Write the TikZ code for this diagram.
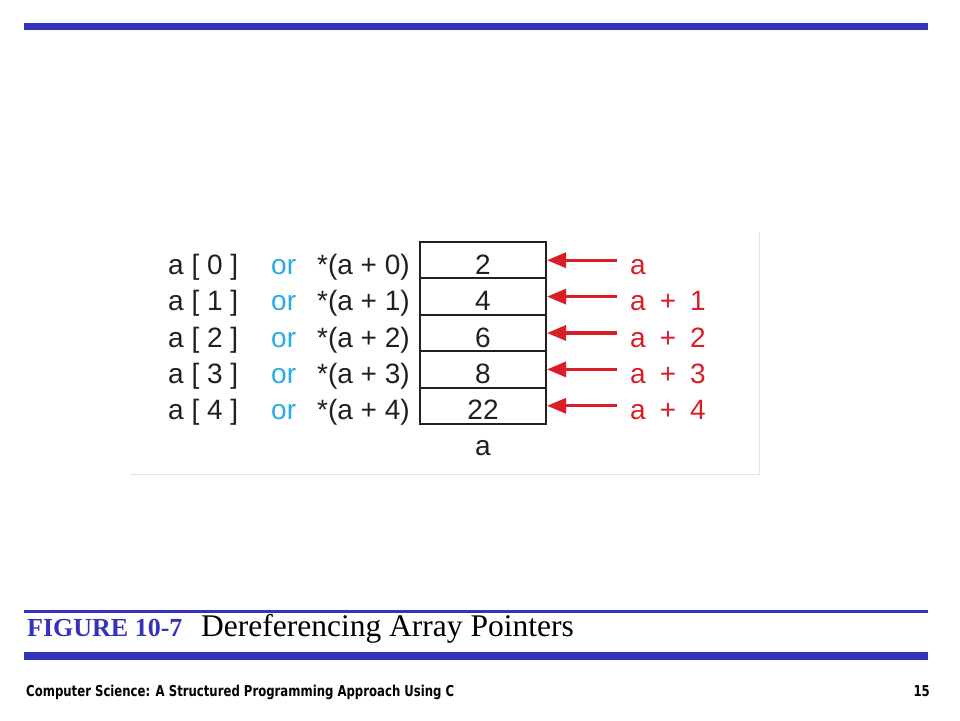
\documentclass[tikz,border=0pt]{standalone}
\usepackage{fontspec}
\usepackage{graphicx}
\setmainfont{Liberation Serif}
\newfontfamily\helv{Liberation Sans}
\newfontfamily\footfont{DejaVu Sans}
\usetikzlibrary{arrows.meta}
\definecolor{barblue}{RGB}{51,51,187}
\definecolor{orblue}{RGB}{41,171,226}
\definecolor{ptrred}{RGB}{218,30,40}
\definecolor{ink}{RGB}{35,31,32}
\definecolor{framegrey}{RGB}{226,226,226}
\newcommand{\ptrsum}[1]{a\hspace{.5em}+\hspace{.5em}#1}
\tikzset{
  cell/.style={draw=ink, line width=2pt, minimum width=126pt, minimum height=36.4pt,
    inner sep=0pt, text height=28pt, text depth=0pt, font=\helv\fontsize{28}{30}\selectfont, text=ink},
  txt/.style={anchor=base west, inner sep=0pt, font=\helv\fontsize{28}{30}\selectfont},
  ptr/.style={-{Triangle[length=19pt,width=15pt]}, line width=3.2pt, ptrred}
}
\begin{document}
\begin{tikzpicture}[x=1pt, y=-1pt]
    \useasboundingbox (0,0) rectangle (960,720);
    \fill [barblue] (24,23) rectangle (928,30);
    \draw [framegrey, line width=1pt] (130,474) -- (759,474) -- (759,232);
    % the array and its names
    \foreach \i/\v/\r in {0/2/a, 1/4/\ptrsum{1}, 2/6/\ptrsum{2}, 3/8/\ptrsum{3}, 4/22/\ptrsum{4}}{
        \pgfmathsetmacro\y{260.2+36.4*\i}
        \node [cell] (c\i) at (483,\y) {\v};
        \node [txt, text=ink] (idx\i) at (168,\y+14) {a [ \i\ ]};
        \node [txt, text=orblue] (or\i) at (271,\y+14) {or};
        \node [txt, text=ink] (deref\i) at (317,\y+14) {*(a + \i)};
        \node [txt, text=ptrred] (p\i) at (630,\y+14) {\r};
        \coordinate (t\i) at (617,\y);
        \draw [ptr] (t\i) -- (c\i.east);
    }
    \node [txt, anchor=base, text=ink] (aname) at (483,455) {a};
    % caption
    \fill [barblue] (24,610) rectangle (928,612.5);
    \node [anchor=base west, inner sep=0pt, text=barblue, font=\bfseries\fontsize{26}{28}\selectfont] (fig) at (27,636) {FIGURE 10-7};
    \node [anchor=base west, inner sep=0pt, font=\fontsize{31.5}{33}\selectfont] (title) at (201,636) {Dereferencing Array Pointers};
    \fill [barblue] (24,652) rectangle (928,660);
    % footer
    \node [anchor=base west, inner sep=0pt, font=\footfont\bfseries\fontsize{15}{17}\selectfont] (foot) at (26,696) {\scalebox{0.78}[1]{Computer Science: A Structured Programming Approach Using C}};
    \node [anchor=base east, inner sep=0pt, font=\footfont\bfseries\fontsize{15}{17}\selectfont] (page) at (930,696) {\scalebox{0.78}[1]{15}};
\end{tikzpicture}
\end{document}
